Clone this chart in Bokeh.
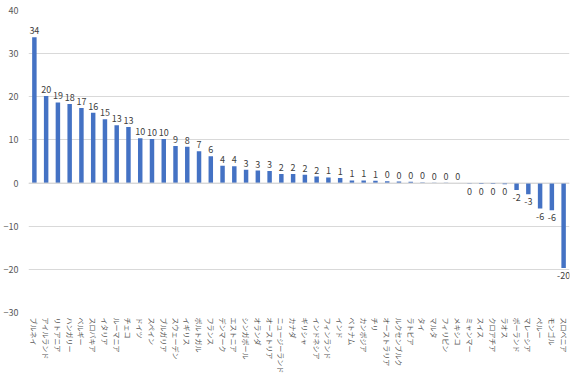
import math
from bokeh.plotting import figure
from bokeh.models import ColumnDataSource, Span, FixedTicker, LabelSet
from bokeh.core.properties import value
from bokeh.embed import file_html
from bokeh.resources import INLINE

countries = ["ブルネイ", "アイルランド", "リトアニア", "ハンガリー", "ベルギー", "スロバキア",
             "イタリア", "ルーマニア", "チェコ", "ドイツ", "スペイン", "ブルガリア",
             "スウェーデン", "イギリス", "ポルトガル", "フランス", "デンマーク", "エストニア",
             "シンガポール", "オランダ", "オーストリア", "ニュージーランド", "カナダ", "ギリシャ",
             "インドネシア", "フィンランド", "インド", "ベトナム", "カンボジア", "チリ",
             "オーストラリア", "ルクセンブルク", "ラトビア", "タイ", "マルタ", "フィリピン",
             "メキシコ", "ミャンマー", "スイス", "クロアチア", "ラオス", "ポーランド",
             "マレーシア", "ペルー", "モンゴル", "スロベニア"]
values = [33.8, 20.2, 18.7, 18.3, 17.4, 16.3,
          14.8, 13.4, 13.0, 10.4, 10.2, 10.2,
          8.6, 8.4, 7.4, 6.2, 4.0, 3.9,
          3.1, 2.9, 2.8, 2.1, 2.1, 1.9,
          1.5, 1.3, 1.2, 0.6, 0.6, 0.52,
          0.4, 0.35, 0.3, 0.15, 0.1, 0.05,
          0.02, -0.1, -0.2, -0.2, -0.3, -1.6,
          -2.6, -5.9, -6.3, -19.7]
y_ticks = [-30, -20, -10, 0, 10, 20, 30, 40]

labels = [str(int(round(v))) for v in values]
pos_idx = [i for i, v in enumerate(values) if v >= 0]
neg_idx = [i for i, v in enumerate(values) if v < 0]

src = ColumnDataSource(dict(x=countries, top=values))
src_pos = ColumnDataSource(dict(x=[countries[i] for i in pos_idx],
                                y=[values[i] for i in pos_idx],
                                lab=[labels[i] for i in pos_idx]))
src_neg = ColumnDataSource(dict(x=[countries[i] for i in neg_idx],
                                y=[values[i] for i in neg_idx],
                                lab=[labels[i] for i in neg_idx]))

FONT = "Noto Sans CJK JP"

p = figure(x_range=countries, y_range=(y_ticks[0], y_ticks[-1]),
           width=575, height=376, output_backend="svg", toolbar_location=None,
           min_border_top=10, min_border_right=6, min_border_left=4, min_border_bottom=0)
p.outline_line_color = None
p.background_fill_color = "white"

p.vbar(x="x", top="top", bottom=0, width=0.38, source=src,
       fill_color="#4472C4", line_color=None)

p.add_layout(Span(location=0, dimension="width", line_color="#D9D9D9", line_width=1))

p.add_layout(LabelSet(x="x", y="y", text="lab", source=src_pos, text_align="center",
                      text_baseline="bottom", y_offset=3, text_font=value(FONT),
                      text_font_size="9px", text_color="#404040"))
p.add_layout(LabelSet(x="x", y="y", text="lab", source=src_neg, text_align="center",
                      text_baseline="top", y_offset=-4, text_font=value(FONT),
                      text_font_size="9px", text_color="#404040"))

p.yaxis.ticker = FixedTicker(ticks=y_ticks)
p.yaxis.axis_line_color = None
p.yaxis.major_tick_line_color = None
p.yaxis.minor_tick_line_color = None
p.yaxis.major_label_text_font = FONT
p.yaxis.major_label_text_font_size = "9px"
p.yaxis.major_label_text_color = "#595959"
p.yaxis.major_label_standoff = 4

p.xaxis.axis_line_color = None
p.xaxis.major_tick_line_color = None
p.xaxis.major_tick_out = 0
p.xaxis.major_tick_in = 0
p.xaxis.minor_tick_line_color = None
p.xaxis.major_label_orientation = -math.pi / 2
p.xaxis.major_label_text_font = FONT
p.xaxis.major_label_text_font_size = "7px"
p.xaxis.major_label_text_color = "#595959"
p.xaxis.major_label_standoff = 5

p.xgrid.grid_line_color = None
p.ygrid.grid_line_color = "#D9D9D9"
p.ygrid.grid_line_width = 1

open("out.html", "w").write(file_html(p, INLINE))
